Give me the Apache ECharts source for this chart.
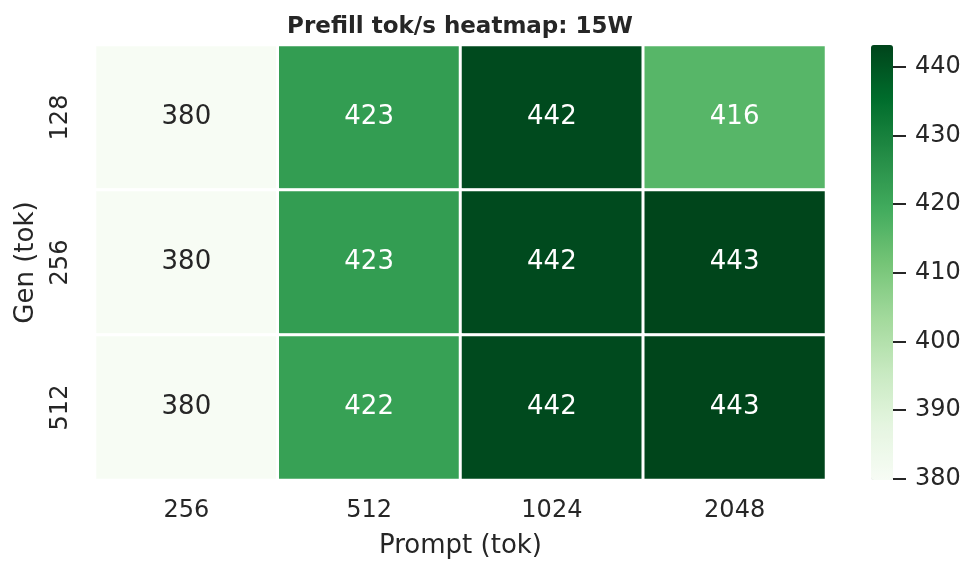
<!DOCTYPE html>
<html>
<head>
<meta charset="utf-8">
<script src="https://cdn.jsdelivr.net/npm/echarts@6/dist/echarts.min.js"></script>
<style>
  html, body { margin: 0; padding: 0; background: #fff; }
  #chart { width: 973px; height: 573px; }
</style>
</head>
<body>
<div id="chart"></div>
<script>
// prompt lengths (columns) and generation lengths (rows)
var promptCats = ['256', '512', '1024', '2048'];
var genCats = ['128', '256', '512'];

// prefill tok/s, one array per gen row
var gen128 = [380, 423, 442, 416];
var gen256 = [380, 423, 442, 443];
var gen512 = [380, 422, 442, 443];

// colorbar range and ticks
var cbMin = 379.8;
var cbMax = 443.2;
var cbTicks = [380, 390, 400, 410, 420, 430, 440];

// matplotlib "Greens"
var greens = ['#f7fcf5', '#e5f5e0', '#c7e9c0', '#a1d99b', '#74c476',
              '#41ab5d', '#238b45', '#006d2c', '#00441b'];

var textDark = '#262626';
var font = 'DejaVu Sans';

var rows = [gen128, gen256, gen512];
var heatData = [];
rows.forEach(function (row, yi) {
  row.forEach(function (v, xi) {
    heatData.push({
      value: [xi, yi, v],
      // light text on the dark cells, like seaborn does
      label: { color: v > 413 ? '#ffffff' : textDark }
    });
  });
});

var chart = echarts.init(document.getElementById('chart'));
chart.setOption({
  backgroundColor: '#fff',
  animation: false,
  textStyle: { fontFamily: font },
  title: {
    text: 'Prefill tok/s heatmap: 15W',
    left: 455,
    top: 11,
    textAlign: 'center',
    textStyle: { fontFamily: font, fontSize: 23, fontWeight: 'bold', color: textDark }
  },
  grid: [
    { left: 95, top: 45, width: 731, height: 435 },
    { left: 871, top: 45, width: 22, height: 435 }
  ],
  xAxis: [
    {
      type: 'category',
      gridIndex: 0,
      data: promptCats,
      axisLine: { show: false },
      axisTick: { show: false },
      splitLine: { show: false },
      axisLabel: { fontSize: 24, color: textDark, margin: 19 },
      name: 'Prompt (tok)',
      nameLocation: 'middle',
      nameGap: 53,
      nameTextStyle: { fontSize: 26, color: textDark }
    },
    { type: 'value', gridIndex: 1, show: false, min: 0, max: 1 }
  ],
  yAxis: [
    {
      type: 'category',
      gridIndex: 0,
      data: genCats,
      inverse: true,
      axisLine: { show: false },
      axisTick: { show: false },
      splitLine: { show: false },
      axisLabel: { fontSize: 24, color: textDark, rotate: 90, margin: 22 },
      name: 'Gen (tok)',
      nameLocation: 'middle',
      nameGap: 56,
      nameTextStyle: { fontSize: 26, color: textDark }
    },
    {
      // colorbar scale, sits on the right edge of the bar
      type: 'value',
      gridIndex: 1,
      position: 'right',
      min: cbMin,
      max: cbMax,
      axisLine: { show: true, onZero: false, lineStyle: { color: '#ffffff', opacity: 0 } },
      splitLine: { show: false },
      axisTick: {
        show: true,
        inside: false,
        length: 13,
        customValues: cbTicks,
        lineStyle: { color: textDark, width: 2 }
      },
      axisLabel: {
        customValues: cbTicks,
        fontSize: 24,
        color: textDark,
        margin: 22
      },
      z: 10
    }
  ],
  visualMap: {
    type: 'continuous',
    seriesIndex: 0,
    min: cbMin,
    max: cbMax,
    calculable: false,
    left: 871,
    top: 45,
    itemWidth: 22,
    itemHeight: 435,
    padding: 0,
    inRange: { color: greens }
  },
  series: [{
    type: 'heatmap',
    xAxisIndex: 0,
    yAxisIndex: 0,
    data: heatData,
    itemStyle: { borderColor: '#ffffff', borderWidth: 3 },
    label: { show: true, fontSize: 26, fontFamily: font },
    emphasis: { disabled: true }
  }]
});
</script>
</body>
</html>
